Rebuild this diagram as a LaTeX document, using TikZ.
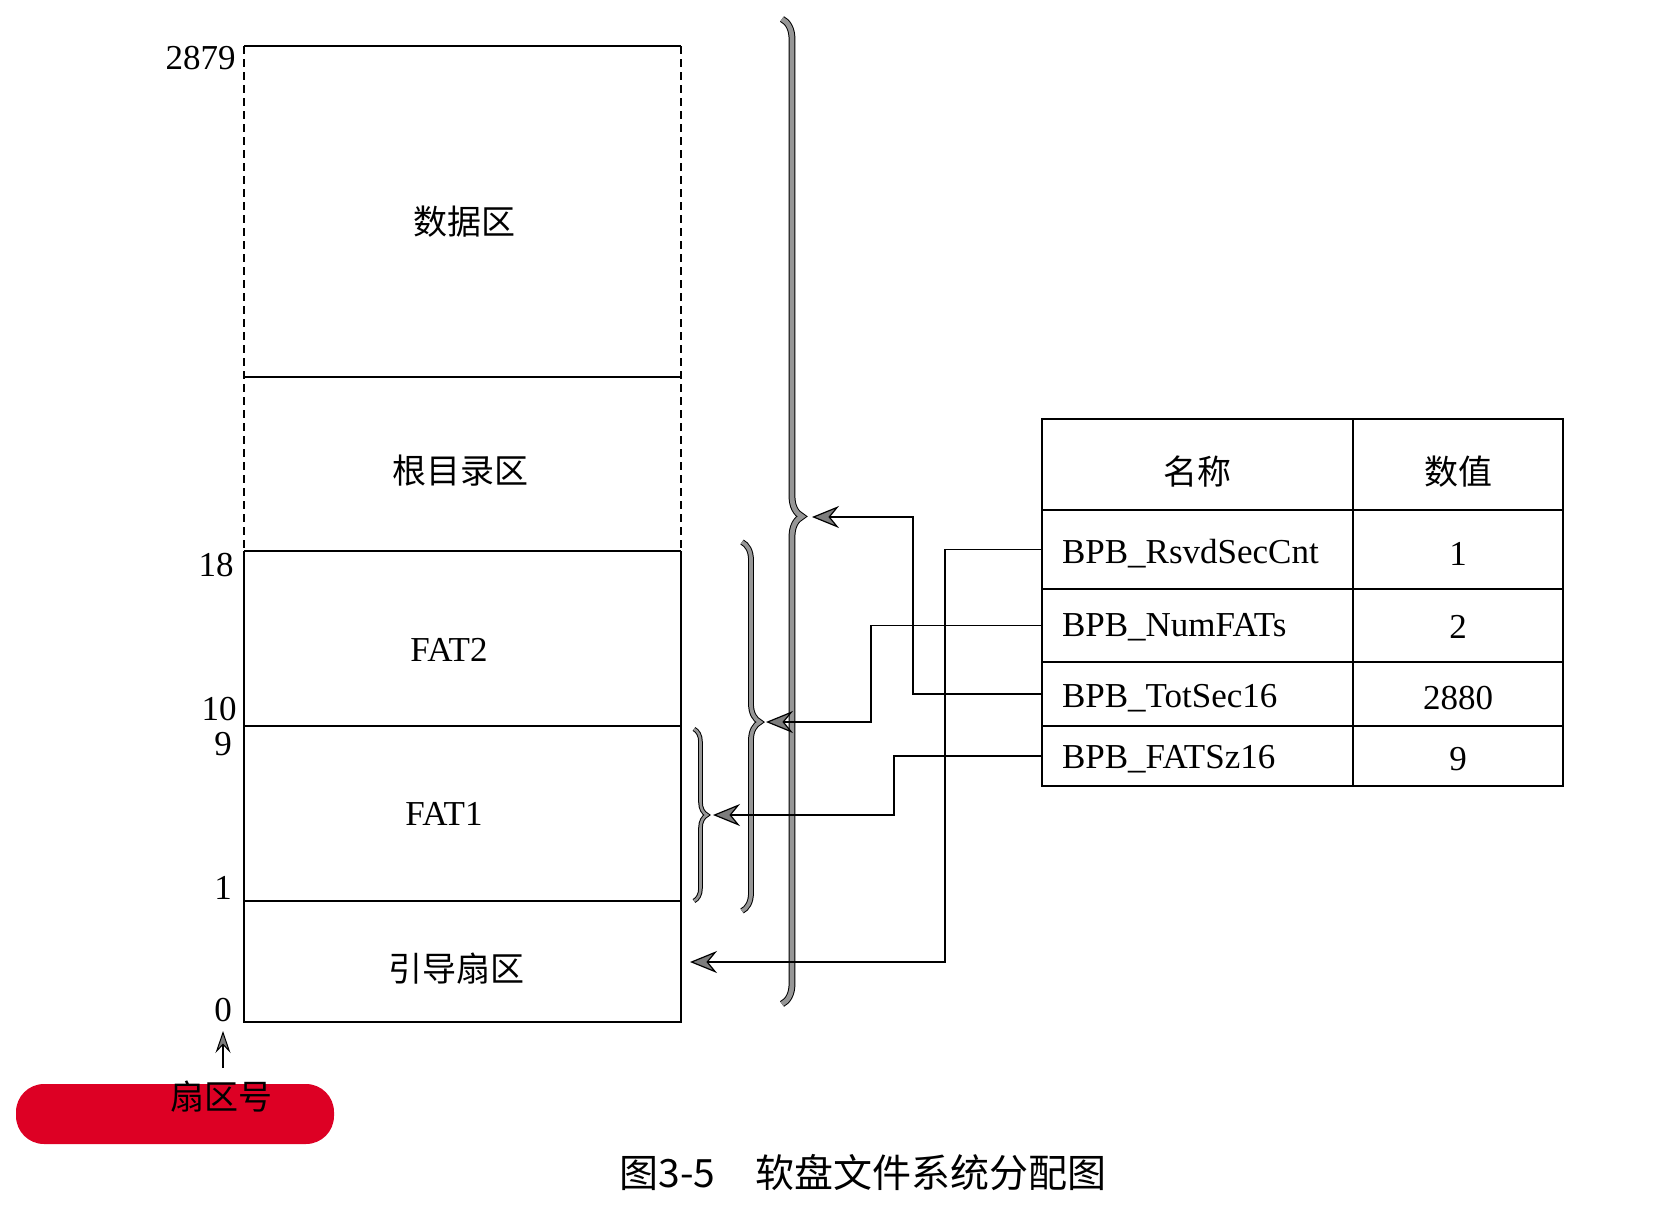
\documentclass[tikz,border=0pt]{standalone}
\usepackage{fontspec}
\setmainfont{Liberation Serif}
\newfontfamily\cjk{Noto Sans CJK SC}
\usetikzlibrary{arrows.meta,decorations.pathreplacing}

\definecolor{pillred}{RGB}{221,0,36}
\definecolor{tipgray}{RGB}{125,125,125}
\definecolor{bracegray}{RGB}{150,150,150}

\tikzset{
  edge/.style={line width=1pt},
  dashedge/.style={line width=1pt,dash pattern=on 4pt off 2.5pt},
  latin/.style={font=\fontsize{17.5}{17.5}\selectfont, inner sep=0pt},
  zone/.style={font=\cjk\fontsize{17}{17}\selectfont, inner sep=0pt},
  tipfill/.style={-{Stealth[length=13.5pt,width=11pt,inset=4.5pt,fill=tipgray,line width=0.6pt]}},
  link/.style={tipfill, line width=0.85pt},
  curly/.style n args={3}{decorate, decoration={brace, amplitude=#1, aspect=#2},
    draw=black, line width=0.5pt, double=bracegray, double distance=#3},
  headcell/.style={draw, line width=0.8pt, minimum width=#1, minimum height=45.5pt,
    inner sep=0pt, font=\cjk\fontsize{17}{17}\selectfont},
  namecell/.style={draw, line width=0.8pt, minimum height=#1, text width=135.5pt,
    inner xsep=10pt, inner ysep=0pt, align=left, font=\fontsize{17.5}{17.5}\selectfont},
  valcell/.style={draw, line width=0.8pt, minimum height=#1, minimum width=105pt,
    inner sep=0pt, font=\fontsize{17.5}{17.5}\selectfont},
}
% lower the ink of a cell text while keeping its box size
\newcommand{\low}[2][2pt]{\raisebox{-#1}[\height][\depth]{#2}}

\begin{document}
\begin{tikzpicture}[x=0.5pt,y=-0.5pt]
\useasboundingbox (0,0) rectangle (1666,1226);

% sector column: dashed upper part, solid lower part
\draw[edge] (244,46) -- (681,46);
\draw[dashedge] (244,46) -- (244,551);
\draw[dashedge] (681,46) -- (681,551);
\draw[edge] (244,377) -- (681,377);
\draw[edge] (244,551) -- (681,551);
\draw[edge] (244,726) -- (681,726);
\draw[edge] (244,901) -- (681,901);
\draw[edge] (244,551) -- (244,1022) -- (681,1022) -- (681,551);

% zone names
\node[zone] (data) at (464,222) {数据区};
\node[zone] (root) at (460,471) {根目录区};
\node[latin] (fat2) at (449,650) {FAT2};
\node[latin] (fat1) at (444,814) {FAT1};
\node[zone] (boot) at (456,969) {引导扇区};

% sector numbers
\node[latin, anchor=east] (l2879) at (236,58) {2879};
\node[latin] (l18) at (216,565) {18};
\node[latin] (l10) at (219,709) {10};
\node[latin] (l9) at (223,744) {9};
\node[latin] (l1) at (223,888) {1};
\node[latin] (l0) at (223,1010) {0};

% sector number caption with its arrow
\fill[pillred, rounded corners=14pt] (16,1084) rectangle (334,1144);
\node[zone] (secno) at (221,1097) {扇区号};
\draw[line width=0.8pt, -{Stealth[length=11pt,width=7.5pt,inset=4pt,fill=tipgray,line width=0.5pt]}]
  (223,1068) -- (l0.south |- 0,1031);

% braces
\draw[curly={10pt}{0.505}{2.4pt}] (782,19) -- (782,1004);
\draw[curly={9pt}{0.488}{1.9pt}] (742,542) -- (742,911);
\draw[curly={6.5pt}{0.5}{1.3pt}] (694,729) -- (694,901);

% arrow targets next to the braces
\coordinate (toall) at (812,517);
\coordinate (tofats) at (766,722);
\coordinate (tofat1) at (713,815);
\coordinate (toboot) at (690,962);

% BPB table
\node[headcell=155.5pt] (hname) at (1197.5,464.5) {\low[3.5pt]{名称}};
\node[headcell=105pt] (hval) at (1458,464.5) {\low[3.5pt]{数值}};
\node[namecell=39.5pt] (r1) at (1197.5,549.5) {\low{BPB\_RsvdSecCnt}};
\node[valcell=39.5pt] (v1) at (1458,549.5) {\low{1}};
\node[namecell=36.5pt] (r2) at (1197.5,625.5) {\low[1pt]{BPB\_NumFATs}};
\node[valcell=36.5pt] (v2) at (1458,625.5) {\low[0.5pt]{2}};
\node[namecell=32pt] (r3) at (1197.5,694) {\low{BPB\_TotSec16}};
\node[valcell=32pt] (v3) at (1458,694) {\low{2880}};
\node[namecell=30pt] (r4) at (1197.5,756) {\low[1.5pt]{BPB\_FATSz16}};
\node[valcell=30pt] (v4) at (1458,756) {\low[1.5pt]{9}};

% connectors from the table rows
\draw[link] (r1.west) -- ++(-96,0) |- (toboot);
\draw[link] (r2.west) -- ++(-170,0) |- (tofats);
\draw[link] (r3.west) -- ++(-128,0) |- (toall);
\draw[link] (r4.west) -- ++(-147,0) |- (tofat1);

% figure caption
\node[font=\cjk\fontsize{19.5}{19.5}\selectfont, inner sep=0pt] (caption) at (863,1173)
  {图3-5\hspace{20pt}软盘文件系统分配图};
\end{tikzpicture}
\end{document}
